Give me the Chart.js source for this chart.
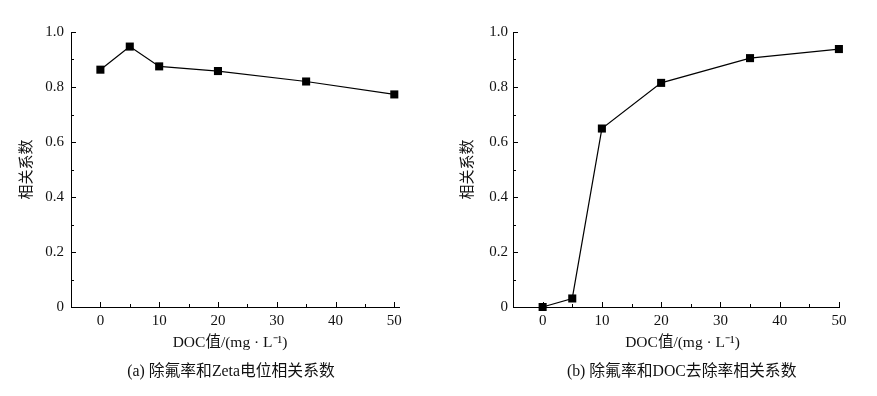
<!DOCTYPE html>
<html>
<head>
<meta charset="utf-8">
<script src="https://cdn.jsdelivr.net/npm/chart.js@4/dist/chart.umd.min.js"></script>
<style>
  html, body { margin: 0; padding: 0; background: #fff; }
  body { width: 877px; height: 396px; position: relative; overflow: hidden; }
  .box { position: absolute; top: 0; height: 396px; }
</style>
</head>
<body>
<div class="box" style="left:0;width:440px"><canvas id="chartA"></canvas></div>
<div class="box" style="left:440px;width:437px"><canvas id="chartB"></canvas></div>
<script>
// DOC concentration (mg/L)
var doc = [0, 5, 10, 20, 35, 50];
// (a) correlation: fluoride removal vs Zeta potential
var zetaCorr = [0.863, 0.947, 0.875, 0.858, 0.820, 0.773];
// (b) correlation: fluoride removal vs DOC removal
var docCorr = [0.000, 0.031, 0.649, 0.815, 0.905, 0.938];

var xTicks = [0, 10, 20, 30, 40, 50];
var xMinor = [5, 15, 25, 35, 45];
var yTicks = [0, 0.2, 0.4, 0.6, 0.8, 1.0];
var yMinor = [0.1, 0.3, 0.5, 0.7, 0.9];

var yTitle = '相关系数';
var xTitle = 'DOC值/(mg · L⁻¹)';
var captionA = '(a) 除氟率和Zeta电位相关系数';
var captionB = '(b) 除氟率和DOC去除率相关系数';

Chart.defaults.font.family = '"Liberation Serif", "Noto Sans CJK SC", serif';
Chart.defaults.color = '#111';

// inward tick marks + free text
var extras = {
    id: 'extras',
    afterDraw: function(chart, args, opts) {
        var ctx = chart.ctx;
        var x = chart.scales.x, y = chart.scales.y;
        ctx.save();
        ctx.strokeStyle = '#000';
        ctx.lineWidth = 1;
        ctx.beginPath();
        function xt(v, len) {
            var px = Math.round(x.getPixelForValue(v)) + 0.5;
            ctx.moveTo(px, y.bottom); ctx.lineTo(px, y.bottom - len);
        }
        function yt(v, len) {
            var py = Math.round(y.getPixelForValue(v)) + 0.5;
            ctx.moveTo(x.left, py); ctx.lineTo(x.left + len, py);
        }
        xTicks.forEach(function(v){ xt(v, 5); });
        xMinor.forEach(function(v){ xt(v, 3); });
        yTicks.forEach(function(v){ yt(v, 5); });
        yMinor.forEach(function(v){ yt(v, 3); });
        ctx.stroke();

        ctx.fillStyle = '#111';
        ctx.textAlign = 'center';
        ctx.textBaseline = 'middle';
        (opts.items || []).forEach(function(it){
            ctx.font = it.font;
            ctx.fillText(it.text, it.x, it.y);
        });
        ctx.restore();
    }
};

function makeChart(id, values, xMax, yWidth, padRight, yTitlePad, yTickPad, items) {
    var ctx = document.getElementById(id).getContext('2d');
    return new Chart(ctx, {
        type: 'line',
        data: {
            datasets: [{
                data: doc.map(function(d, i){ return {x: d, y: values[i]}; }),
                borderColor: '#000',
                backgroundColor: '#000',
                borderWidth: 1.2,
                pointStyle: 'rect',
                pointRadius: 5.7,
                pointBorderWidth: 0,
                tension: 0,
                clip: false
            }]
        },
        options: {
            responsive: true,
            maintainAspectRatio: false,
            animation: false,
            layout: { padding: { top: 32, right: padRight, bottom: 39, left: 0 } },
            plugins: {
                legend: { display: false },
                tooltip: { enabled: false },
                extras: { items: items }
            },
            scales: {
                x: {
                    type: 'linear',
                    min: -5,
                    max: xMax,
                    afterBuildTicks: function(s){ s.ticks = xTicks.map(function(v){ return {value: v}; }); },
                    afterFit: function(s){ s.height = 50; },
                    grid: { display: false, drawTicks: false },
                    border: { display: true, color: '#000', width: 1 },
                    ticks: { padding: 5, font: { size: 15 }, color: '#111', maxRotation: 0 }
                },
                y: {
                    min: 0,
                    max: 1,
                    afterBuildTicks: function(s){ s.ticks = yTicks.map(function(v){ return {value: v}; }); },
                    afterFit: function(s){ s.width = yWidth; },
                    grid: { display: false, drawTicks: false },
                    border: { display: true, color: '#000', width: 1 },
                    ticks: {
                        padding: yTickPad,
                        font: { size: 15 },
                        color: '#111',
                        callback: function(v){ return v === 0 ? '0' : v.toFixed(1); }
                    },
                    title: {
                        display: true,
                        text: yTitle,
                        font: { size: 15, family: '"Noto Sans CJK SC", sans-serif' },
                        color: '#111',
                        padding: { top: yTitlePad, bottom: 0 }
                    }
                }
            }
        },
        plugins: [extras]
    });
}

makeChart('chartA', zetaCorr, 50.8, 71, 41, 16, 7, [
    { text: xTitle, x: 230, y: 343, font: '15.5px "Liberation Serif", "Noto Sans CJK SC", serif' },
    { text: captionA, x: 231, y: 371.5, font: '15.8px "Liberation Serif", "Noto Sans CJK SC", serif' }
]);
makeChart('chartB', docCorr, 50.1, 73, 37.5, 17.7, 5, [
    { text: xTitle, x: 242.5, y: 343, font: '15.5px "Liberation Serif", "Noto Sans CJK SC", serif' },
    { text: captionB, x: 241.7, y: 371.5, font: '15.8px "Liberation Serif", "Noto Sans CJK SC", serif' }
]);
</script>
</body>
</html>
